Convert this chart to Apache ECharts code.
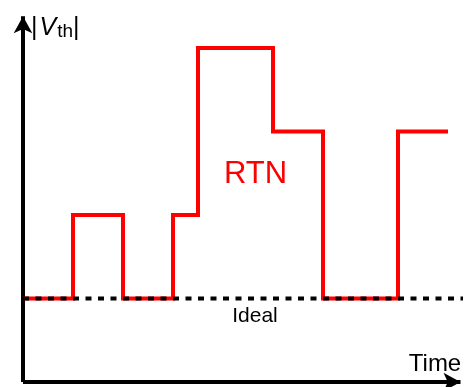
<!DOCTYPE html>
<html><head><meta charset="utf-8">
<script src="https://cdn.jsdelivr.net/npm/echarts@6/dist/echarts.min.js"></script>
<style>html,body{margin:0;padding:0;background:#fff}#c{width:470px;height:387px}</style>
</head><body><div id="c"></div>
<script>
// Switching instants (time units) and the |Vth| level reached at each instant
const switchTimes = [0, 2, 4, 6, 7, 10, 12, 15, 17];
const rtnLevels   = [0, 1, 0, 1, 3, 2, 0, 2, 2];
// Ideal (constant) threshold voltage
const idealTimes  = [0, 18.9];
const idealLevels = [0, 0];
// Text
const yName = ['V', 'th'];
const xName = 'Time';
const rtnLabel = 'RTN';
const idealLabel = 'Ideal';

const FONT = "'Liberation Sans', Arial, sans-serif";
const chart = echarts.init(document.getElementById('c'), null, {renderer: 'canvas'});
const axisCommon = {
  type: 'value',
  axisLine: {onZero: false, symbol: ['none', 'arrow'], symbolSize: [14, 17],
             lineStyle: {color: '#000', width: 4, cap: 'butt'}},
  axisTick: {show: false}, axisLabel: {show: false}, splitLine: {show: false}
};
chart.setOption({
  animation: false,
  grid: {left: 23, right: 9.5, top: 16.3, bottom: 5},
  xAxis: Object.assign({}, axisCommon, {min: 0, max: 17.5}),
  yAxis: Object.assign({}, axisCommon, {min: -1, max: 3.38}),
  series: [
    {
      name: rtnLabel, type: 'line', step: 'end', showSymbol: false, silent: true, z: 2,
      data: switchTimes.map((t, i) => [t, rtnLevels[i]]),
      lineStyle: {color: '#ff0000', width: 4, join: 'miter', cap: 'butt'}
    },
    {
      name: idealLabel, type: 'line', showSymbol: false, silent: true, clip: false, z: 3,
      data: idealTimes.map((t, i) => [t, idealLevels[i]]),
      lineStyle: {color: '#000', width: 4, type: [6, 6.5], cap: 'butt'}
    }
  ],
  graphic: [
    {type: 'text', x: 31, y: 28, silent: true, style: {
      text: '{p||}{v|' + yName[0] + '}{s|' + yName[1] + '}{p||}',
      verticalAlign: 'middle', align: 'left',
      rich: {
        p: {fontSize: 25, fontFamily: FONT, fill: '#000', lineHeight: 27},
        v: {fontSize: 25, fontFamily: FONT, fontStyle: 'italic', fill: '#000', lineHeight: 27, padding: [0, 1, 0, 2]},
        s: {fontSize: 19, fontFamily: FONT, fill: '#000', verticalAlign: 'bottom', lineHeight: 27, padding: [0, 0, 0, 0]}
      }
    }},
    {type: 'text', x: 435, y: 364, silent: true, style: {
      text: xName, fontSize: 24, fontFamily: FONT, fill: '#000', align: 'center', verticalAlign: 'middle'}},
    {type: 'text', x: 255.5, y: 174, silent: true, style: {
      text: rtnLabel, fontSize: 31, fontFamily: FONT, fill: '#ff0000', align: 'center', verticalAlign: 'middle'}},
    {type: 'text', x: 255, y: 316, silent: true, style: {
      text: idealLabel, fontSize: 21, fontFamily: FONT, fill: '#000', align: 'center', verticalAlign: 'middle'}}
  ]
});
</script></body></html>
